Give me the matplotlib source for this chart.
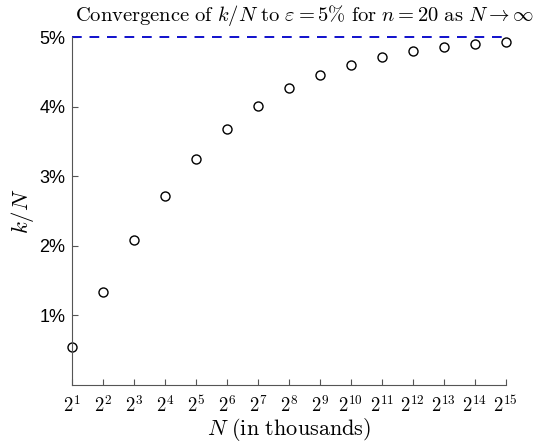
import numpy as np
from matplotlib import pyplot as plt

plt.rcParams['mathtext.fontset'] = 'cm'
plt.rcParams['font.family'] = ['Liberation Sans', 'DejaVu Sans']

exps = list(range(1, 16))
N = [2 ** e for e in exps]
ratio = [0.55, 1.34, 2.08, 2.72, 3.25, 3.68, 4.01, 4.27, 4.45, 4.60,
         4.71, 4.80, 4.86, 4.90, 4.93]
eps = 5.0
yticks = [1, 2, 3, 4, 5]

f = plt.figure(figsize=(5.38, 4.43), dpi=100)
ax = f.add_axes([0.134, 0.131, 0.806, 0.785])
ax.set_xscale('log', base=2)
ax.plot(N, ratio, 'o', mfc='none', mec='black', ms=6.5, mew=1.0, clip_on=False)
ax.axhline(eps, color='#1010cc', ls=(0, (5, 4)), lw=1.4, clip_on=False)
ax.set_xlim(N[0], N[-1])
ax.set_ylim(0, 5)

ax.set_xticks(N)
ax.set_xticklabels([r'$2^{%d}$' % e for e in exps], fontsize=13.5)
ax.minorticks_off()
ax.set_yticks(yticks)
ax.set_yticklabels(['%d%%' % t for t in yticks], fontsize=13)
ax.tick_params(direction='in', length=4, color='#555555', pad=5)
ax.tick_params(axis='x', pad=7)

for s in ['top', 'right']:
    ax.spines[s].set_visible(False)
for s in ['left', 'bottom']:
    ax.spines[s].set_color('#555555')

ax.set_title(r'$\mathrm{Convergence\ of\ }k/N\mathrm{\ to\ }\varepsilon=5\%\mathrm{\ for\ }n=20\mathrm{\ as\ }N\rightarrow\infty$',
             fontsize=14.8, pad=12, x=0.535)
ax.set_xlabel(r'$N\ \mathrm{(in\ thousands)}$', fontsize=16, labelpad=0)
ax.set_ylabel(r'$k/N$', fontsize=16.5, labelpad=2)

f.savefig('out.png', dpi=100)
